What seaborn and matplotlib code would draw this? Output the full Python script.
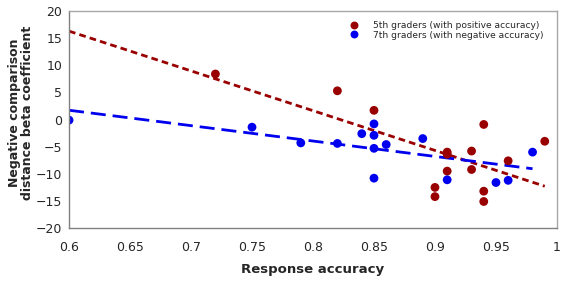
import numpy as np
import pandas as pd
import seaborn as sns
import matplotlib.pyplot as plt
from matplotlib.ticker import FuncFormatter

# 5th graders (with positive accuracy)
acc_5th = [0.72, 0.82, 0.85, 0.91, 0.91, 0.91, 0.90, 0.90, 0.93, 0.93, 0.94, 0.94, 0.94, 0.96, 0.99]
beta_5th = [8.4, 5.3, 1.7, -6.0, -6.4, -9.5, -12.5, -14.2, -5.8, -9.2, -0.9, -13.2, -15.1, -7.6, -4.0]

# 7th graders (with negative accuracy)
acc_7th = [0.60, 0.75, 0.79, 0.82, 0.84, 0.85, 0.85, 0.85, 0.85, 0.86, 0.89, 0.91, 0.95, 0.96, 0.98]
beta_7th = [-0.1, -1.4, -4.3, -4.4, -2.6, -0.8, -2.9, -5.3, -10.8, -4.6, -3.5, -11.1, -11.6, -11.2, -6.0]

labels = ['5th graders (with positive accuracy)', '7th graders (with negative accuracy)']
colors = ['#990000', '#0000EE']

df = pd.DataFrame({
    'acc': acc_5th + acc_7th,
    'beta': beta_5th + beta_7th,
    'group': [labels[0]] * len(acc_5th) + [labels[1]] * len(acc_7th),
})

sns.set_style('white')
plt.rcParams['font.family'] = ['DejaVu Sans']

fig = plt.figure(figsize=(5.66, 2.83), dpi=100)
ax = fig.add_axes([0.122, 0.194, 0.862, 0.767])

# trend lines (linear fit, drawn from 0.6 to each group's max accuracy)
styles = [dict(dashes=(2.4, 1.5), lw=2.0), dict(dashes=(5.4, 2.5), lw=2.0)]
for (xs, ys), col, st in zip([(acc_5th, beta_5th), (acc_7th, beta_7th)], colors, styles):
    slope, icpt = np.polyfit(xs, ys, 1)
    xl = np.array([0.6, max(xs)])
    ax.plot(xl, slope * xl + icpt, color=col, zorder=1, **st)

sns.scatterplot(data=df, x='acc', y='beta', hue='group', palette=colors,
                s=40, edgecolor='none', ax=ax, zorder=2)

ax.set_xlim(0.6, 1.0)
ax.set_ylim(-20, 20)
ax.set_xticks(np.arange(0.6, 1.001, 0.05))
ax.set_yticks(np.arange(-20, 21, 5))
ax.xaxis.set_major_formatter(FuncFormatter(lambda v, p: f'{v:.2f}'.rstrip('0').rstrip('.')))
ax.tick_params(axis='both', labelsize=9, length=3, direction='out', color='#808080', pad=2)
ax.tick_params(axis='x', pad=6)

for side in ['top', 'right']:
    ax.spines[side].set_color('#A8A8A8')
for side in ['left', 'bottom']:
    ax.spines[side].set_color('#808080')
for sp in ax.spines.values():
    sp.set_linewidth(1.0)

ax.set_xlabel('Response accuracy', fontsize=9.5, fontweight='bold', labelpad=7)
ax.set_ylabel('Negative comparison\ndistance beta coefficient', fontsize=9,
              fontweight='bold', linespacing=1.05)
ax.yaxis.set_label_coords(-0.071, 0.53)

leg = ax.legend(loc='upper right', frameon=False, fontsize=6.6, markerscale=0.9,
                handletextpad=1.0, borderaxespad=0.3, labelspacing=0.1,
                bbox_to_anchor=(0.985, 0.985))

fig.savefig('out.png', dpi=100)
